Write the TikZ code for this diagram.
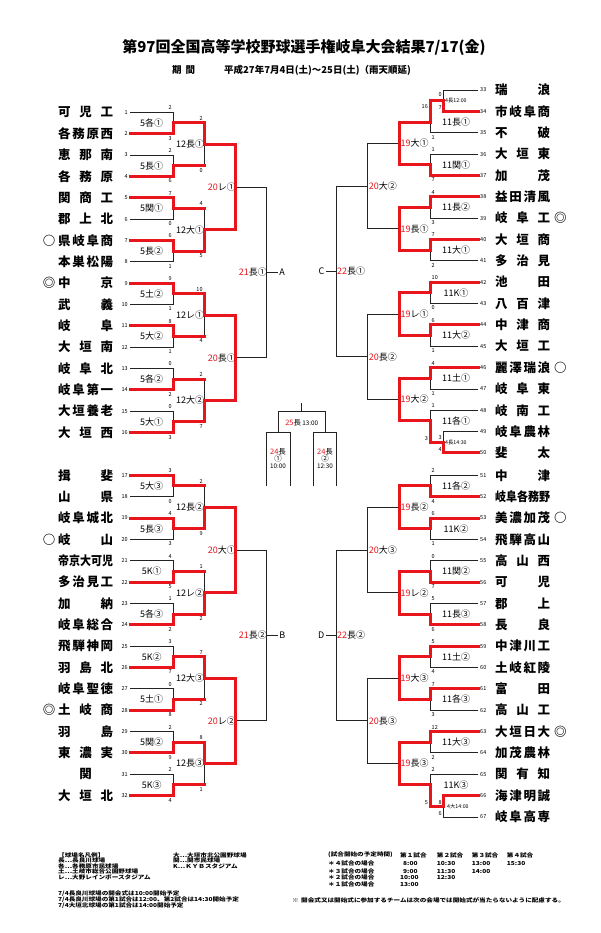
\documentclass[tikz,border=0pt]{standalone}
\usepackage{fontspec}
\setmainfont{Noto Sans CJK JP}
\usetikzlibrary{calc}
\pgfdeclarelayer{fg}
\pgfsetlayers{main,fg}
\definecolor{bred}{RGB}{232,22,28}
\definecolor{lk}{RGB}{35,35,35}
\newcommand\R[1]{\textcolor{bred}{#1}}
\def\gap{\hskip 0pt plus 1fill\relax}
\def\sprA#1{#1\sprB}
\def\sprB#1{\ifx\relax#1\else\gap#1\expandafter\sprB\fi}
\newcommand\spr[1]{\setbox0=\hbox{\sprA#1\relax}\ifdim\wd0>55pt\resizebox{55pt}{\height}{\box0}\else\hbox to 55pt{\sprA#1\relax}\fi}
\tikzset{
 redl/.style={draw=bred,line width=3pt,line cap=rect,line join=miter},
 blkl/.style={draw=lk,line width=0.8pt},
 tname/.style={font=\fontsize{12.5}{13}\selectfont\bfseries,inner sep=0pt},
 tnum/.style={font=\fontsize{5.5}{6}\selectfont,inner sep=0pt},
 sc/.style={font=\fontsize{5.5}{6}\selectfont,inner sep=0pt},
 xs/.style={font=\fontsize{5.3}{6}\selectfont,inner sep=0pt,anchor=west},
 gl/.style={font=\fontsize{9}{10}\selectfont,inner sep=0pt},
 bx/.style={font=\fontsize{7.5}{8}\selectfont,inner sep=0pt},
 bxs/.style={font=\fontsize{6.3}{7}\selectfont,inner sep=0pt},
 lg/.style={font=\fontsize{5.5}{5.5}\selectfont\bfseries,inner sep=0pt,anchor=west},
}
\newcommand\lgn[4]{\node[lg] (#1) at (#2,#3) {\scalebox{1.2}[1]{#4}};}
\newcommand\seg[2]{\ifx r#1\begin{pgfonlayer}{fg}\draw[redl] #2;\end{pgfonlayer}\else\draw[blkl] #2;\fi}
\newcommand\gin[4]{\ifx#3#4\seg{#3}{(#1) -- (#1 -| #2) -- (#2)}\else\seg{#3}{(#1) -- (#1 -| #2)}\seg{#4}{(#1 -| #2) -- (#2)}\fi}
\newcommand\gmid[4]{\coordinate (#1m) at ($(#2)!.5!(#3)$);\coordinate (#1) at (#1m -| #4);}
\newcommand\gA[6]{\gmid{#1}{#2}{#3}{#4}\gin{#2}{#1}{#5}{#5}\gin{#3}{#1}{#6}{#6}}
\newcommand\gB[8]{\gmid{#1}{#2}{#3}{#4}\gin{#2}{#1}{#5}{#6}\gin{#3}{#1}{#7}{#8}}
\newcommand\sL[5]{\node[sc,anchor=east] at ($(#1 -| #3)+(-1.2,-4.5)$) {#4};\node[sc,anchor=east] at ($(#2 -| #3)+(-1.2,4.5)$) {#5};}
\newcommand\sR[5]{\node[sc,anchor=west] at ($(#1 -| #3)+(1.5,-4.5)$) {#4};\node[sc,anchor=west] at ($(#2 -| #3)+(1.5,4.5)$) {#5};}
\begin{document}
\begin{tikzpicture}[x=1pt,y=-1pt]
\useasboundingbox (0,0) rectangle (600,933);
\fill[white] (0,0) rectangle (600,933);
% header
\node[font=\fontsize{15}{16}\selectfont\bfseries,inner sep=0pt] (title) at (304,48) {第97回全国高等学校野球選手権岐阜大会結果7/17(金)};
\node[font=\fontsize{9.5}{10}\selectfont\bfseries,inner sep=0pt,anchor=west] (per) at (172,70) {\makebox[23pt][s]{期\hfill 間}};
\node[font=\fontsize{9.5}{10}\selectfont\bfseries,inner sep=0pt,anchor=west] (dates) at (224,70) {平成27年7月4日(土)～25日(土)（雨天順延)};
% x positions
\coordinate (LX1) at (173,0);\coordinate (LX2) at (204,0);\coordinate (LX3) at (235.7,0);\coordinate (LX4) at (266.7,0);
\coordinate (RXE) at (443,0);\coordinate (RX1) at (430,0);\coordinate (RX2) at (399,0);\coordinate (RX3) at (367.7,0);\coordinate (RX4) at (336,0);
% left teams
\foreach \i/\nm in {1/可児工,2/各務原西,3/恵那南,4/各務原,5/関商工,6/郡上北,7/県岐阜商,8/本巣松陽,9/中京,10/武義,11/岐阜,12/大垣南,13/岐阜北,14/岐阜第一,15/大垣養老,16/大垣西,17/揖斐,18/山県,19/岐阜城北,20/岐山,21/帝京大可児,22/多治見工,23/加納,24/岐阜総合,25/飛騨神岡,26/羽島北,27/岐阜聖徳,28/土岐商,29/羽島,30/東濃実,31/{\hfil 関\hfil},32/大垣北}{
 \pgfmathsetmacro\yy{(\i<17)*(112.3+(\i-1)*21.35)+(\i>16)*(475.3+(\i-17)*21.35)}
 \coordinate (L\i) at (130,\yy);
 \node[tnum,anchor=east] (num\i) at (128,\yy) {\i};
 \node[tname,anchor=west] (n\i) at (58,\yy) {\expandafter\spr\expandafter{\nm}};
}
% right teams
\foreach \i/\nm in {33/瑞浪,34/市岐阜商,35/不破,36/大垣東,37/加茂,38/益田清風,39/岐阜工,40/大垣商,41/多治見,42/池田,43/八百津,44/中津商,45/大垣工,46/麗澤瑞浪,47/岐阜東,48/岐南工,49/岐阜農林,50/斐太,51/中津,52/岐阜各務野,53/美濃加茂,54/飛騨高山,55/高山西,56/可児,57/郡上,58/長良,59/中津川工,60/土岐紅陵,61/富田,62/高山工,63/大垣日大,64/加茂農林,65/関有知,66/海津明誠,67/岐阜高専}{
 \pgfmathsetmacro\yy{(\i<51)*(90+(\i-33)*21.35)+(\i>50)*(475.3+(\i-51)*21.35)}
 \coordinate (R\i) at (478,\yy);
 \node[tnum,anchor=west] (num\i) at (480,\yy) {\i};
 \node[tname,anchor=west] (n\i) at (495,\yy) {\expandafter\spr\expandafter{\nm}};
}
% markers
\node[tname] (mk7) at ($(n7.west)+(-9,0)$) {○};
\node[tname] (mk9) at ($(n9.west)+(-9,0)$) {◎};
\node[tname] (mk20) at ($(n20.west)+(-9,0)$) {○};
\node[tname] (mk28) at ($(n28.west)+(-9,0)$) {◎};
\node[tname] (mk39) at ($(n39.east)+(10,0)$) {◎};
\node[tname] (mk46) at ($(n46.east)+(10,0)$) {○};
\node[tname] (mk53) at ($(n53.east)+(10,0)$) {○};
\node[tname] (mk63) at ($(n63.east)+(10,0)$) {◎};
% ---- left bracket
\gA{a1}{L1}{L2}{LX1}{k}{r}
\gA{a2}{L3}{L4}{LX1}{k}{r}
\gA{a3}{L5}{L6}{LX1}{r}{k}
\gA{a4}{L7}{L8}{LX1}{r}{k}
\gA{a5}{L9}{L10}{LX1}{r}{k}
\gA{a6}{L11}{L12}{LX1}{r}{k}
\gA{a7}{L13}{L14}{LX1}{k}{r}
\gA{a8}{L15}{L16}{LX1}{k}{r}
\gA{a9}{L17}{L18}{LX1}{r}{k}
\gA{a10}{L19}{L20}{LX1}{r}{k}
\gA{a11}{L21}{L22}{LX1}{k}{r}
\gA{a12}{L23}{L24}{LX1}{k}{r}
\gA{a13}{L25}{L26}{LX1}{k}{r}
\gA{a14}{L27}{L28}{LX1}{k}{r}
\gA{a15}{L29}{L30}{LX1}{k}{r}
\gA{a16}{L31}{L32}{LX1}{k}{r}
\gB{b1}{a1}{a2}{LX2}{r}{r}{r}{k}
\gB{b2}{a3}{a4}{LX2}{r}{k}{r}{r}
\gB{b3}{a5}{a6}{LX2}{r}{r}{r}{k}
\gB{b4}{a7}{a8}{LX2}{r}{k}{r}{r}
\gB{b5}{a9}{a10}{LX2}{r}{k}{r}{r}
\gB{b6}{a11}{a12}{LX2}{r}{k}{r}{r}
\gB{b7}{a13}{a14}{LX2}{r}{r}{r}{k}
\gB{b8}{a15}{a16}{LX2}{r}{r}{r}{k}
\gB{c1}{b1}{b2}{LX3}{r}{r}{r}{r}
\gB{c2}{b3}{b4}{LX3}{r}{r}{r}{r}
\gB{c3}{b5}{b6}{LX3}{r}{r}{r}{r}
\gB{c4}{b7}{b8}{LX3}{r}{r}{r}{r}
\gB{d1}{c1}{c2}{LX4}{k}{k}{k}{k}
\gB{d2}{c3}{c4}{LX4}{k}{k}{k}{k}
\node[gl,inner sep=1.5pt,anchor=west] (A) at ($(d1)+(11,0)$) {A};
\node[gl,inner sep=1.5pt,anchor=west] (B) at ($(d2)+(11,0)$) {B};
\draw[blkl] (d1) -- (A.west);
\draw[blkl] (d2) -- (B.west);
% ---- right bracket
\gA{e1}{R33}{R34}{RXE}{k}{r}
\gmid{f1}{R34}{R35}{RX1}\gin{e1}{f1}{r}{r}\gin{R35}{f1}{k}{k}
\gA{f2}{R36}{R37}{RX1}{k}{r}
\gA{f3}{R38}{R39}{RX1}{r}{k}
\gA{f4}{R40}{R41}{RX1}{r}{k}
\gA{f5}{R42}{R43}{RX1}{r}{k}
\gA{f6}{R44}{R45}{RX1}{r}{k}
\gA{f7}{R46}{R47}{RX1}{r}{k}
\gA{e2}{R49}{R50}{RXE}{k}{r}
\gmid{f8}{R48}{R49}{RX1}\gin{R48}{f8}{k}{k}\gin{e2}{f8}{r}{r}
\gA{f9}{R51}{R52}{RX1}{k}{r}
\gA{f10}{R53}{R54}{RX1}{r}{k}
\gA{f11}{R55}{R56}{RX1}{k}{r}
\gA{f12}{R57}{R58}{RX1}{k}{r}
\gA{f13}{R59}{R60}{RX1}{r}{k}
\gA{f14}{R61}{R62}{RX1}{r}{k}
\gA{f15}{R63}{R64}{RX1}{r}{k}
\gA{e3}{R66}{R67}{RXE}{r}{k}
\gmid{f16}{R65}{R66}{RX1}\gin{R65}{f16}{k}{k}\gin{e3}{f16}{r}{r}
\gB{g1}{f1}{f2}{RX2}{r}{r}{r}{r}
\gB{g2}{f3}{f4}{RX2}{r}{r}{r}{r}
\gB{g3}{f5}{f6}{RX2}{r}{r}{r}{r}
\gB{g4}{f7}{f8}{RX2}{r}{r}{r}{r}
\gB{g5}{f9}{f10}{RX2}{r}{r}{r}{r}
\gB{g6}{f11}{f12}{RX2}{r}{r}{r}{r}
\gB{g7}{f13}{f14}{RX2}{r}{r}{r}{r}
\gB{g8}{f15}{f16}{RX2}{r}{r}{r}{r}
\gB{h1}{g1}{g2}{RX3}{k}{k}{k}{k}
\gB{h2}{g3}{g4}{RX3}{k}{k}{k}{k}
\gB{h3}{g5}{g6}{RX3}{k}{k}{k}{k}
\gB{h4}{g7}{g8}{RX3}{k}{k}{k}{k}
\gB{i1}{h1}{h2}{RX4}{k}{k}{k}{k}
\gB{i2}{h3}{h4}{RX4}{k}{k}{k}{k}
\node[gl,inner sep=1.5pt,anchor=east] (C) at ($(i1)+(-10,0)$) {C};
\node[gl,inner sep=1.5pt,anchor=east] (D) at ($(i2)+(-10,0)$) {D};
\draw[blkl] (C.east) -- (i1);
\draw[blkl] (D.east) -- (i2);
% ---- game labels
\foreach \k/\tx in {1/5各①,2/5長①,3/5関①,4/5長②,5/5土②,6/5大②,7/5各②,8/5大①,9/5大③,10/5長③,11/5K①,12/5各③,13/5K②,14/5土①,15/5関②,16/5K③}
 \node[gl] (la\k) at ($(a\k)+(-21.3,0)$) {\tx};
\foreach \k/\tx in {1/12長①,2/12大①,3/12レ①,4/12大②,5/12長②,6/12レ②,7/12大③,8/12長③}
 \node[gl,anchor=east] (lb\k) at ($(b\k)+(0.3,0)$) {\tx};
\foreach \k/\tx in {1/\R{20}レ①,2/\R{20}長①,3/\R{20}大①,4/\R{20}レ②}
 \node[gl,anchor=east] (lc\k) at ($(c\k)+(0.3,0)$) {\tx};
\node[gl,anchor=east] (ld1) at ($(d1)+(0.3,0)$) {\R{21}長①};
\node[gl,anchor=east] (ld2) at ($(d2)+(0.3,0)$) {\R{21}長②};
\foreach \k/\tx in {1/11長①,2/11関①,3/11長②,4/11大①,5/11K①,6/11大②,7/11土①,8/11各①,9/11各②,10/11K②,11/11関②,12/11長③,13/11土②,14/11各③,15/11大③,16/11K③}
 \node[gl] (lf\k) at ($(f\k)+(26,0)$) {\tx};
\foreach \k/\tx in {1/\R{19}大①,2/\R{19}長①,3/\R{19}レ①,4/\R{19}大②,5/\R{19}長②,6/\R{19}レ②,7/\R{19}大③,8/\R{19}長③}
 \node[gl,anchor=west] (lg\k) at ($(g\k)+(1.5,0)$) {\tx};
\foreach \k/\tx in {1/\R{20}大②,2/\R{20}長②,3/\R{20}大③,4/\R{20}長③}
 \node[gl,anchor=west] (lh\k) at ($(h\k)+(1,0)$) {\tx};
\node[gl,anchor=west] (li1) at ($(i1)+(1,0)$) {\R{22}長①};
\node[gl,anchor=west] (li2) at ($(i2)+(1,0)$) {\R{22}長②};
\node[xs] (x1) at ($(e1)+(2,0)$) {4長12:00};
\node[xs] (x2) at ($(e2)+(2,0)$) {4長14:30};
\node[xs] (x3) at ($(e3)+(4,0)$) {4大14:00};
% ---- scores left
\sL{L1}{L2}{LX1}{2}{3}
\sL{L3}{L4}{LX1}{2}{6}
\sL{L5}{L6}{LX1}{7}{0}
\sL{L7}{L8}{LX1}{6}{1}
\sL{L9}{L10}{LX1}{9}{1}
\sL{L11}{L12}{LX1}{8}{1}
\sL{L13}{L14}{LX1}{0}{2}
\sL{L15}{L16}{LX1}{0}{3}
\sL{L17}{L18}{LX1}{3}{0}
\sL{L19}{L20}{LX1}{4}{3}
\sL{L21}{L22}{LX1}{4}{5}
\sL{L23}{L24}{LX1}{1}{2}
\sL{L25}{L26}{LX1}{3}{7}
\sL{L27}{L28}{LX1}{0}{8}
\sL{L29}{L30}{LX1}{2}{9}
\sL{L31}{L32}{LX1}{2}{4}
\sL{a1}{a2}{LX2}{2}{0}
\sL{a3}{a4}{LX2}{4}{5}
\sL{a5}{a6}{LX2}{10}{4}
\sL{a7}{a8}{LX2}{2}{7}
\sL{a9}{a10}{LX2}{2}{9}
\sL{a11}{a12}{LX2}{1}{2}
\sL{a13}{a14}{LX2}{7}{2}
\sL{a15}{a16}{LX2}{8}{1}
% ---- scores right
\node[sc,anchor=east] at ($(R33 -| RXE)+(-1.2,5)$) {0};
\node[sc,anchor=east] at ($(R34 -| RXE)+(-1.2,-4)$) {7};
\node[sc,anchor=east] at ($(e1 -| RX1)+(-2,6)$) {16};
\node[sc,anchor=west] at ($(R35 -| RX1)+(1.5,4.5)$) {1};
\sR{R36}{R37}{RX1}{1}{7}
\sR{R38}{R39}{RX1}{4}{3}
\sR{R40}{R41}{RX1}{7}{2}
\sR{R42}{R43}{RX1}{10}{0}
\sR{R44}{R45}{RX1}{6}{1}
\sR{R46}{R47}{RX1}{4}{1}
\node[sc,anchor=west] at ($(R48 -| RX1)+(1.5,-4.5)$) {1};
\node[sc,anchor=east] at ($(e2 -| RX1)+(-1.8,-3.4)$) {3};
\node[sc,anchor=east] at ($(R49 -| RXE)+(-1.2,5.6)$) {3};
\node[sc,anchor=east] at ($(R50 -| RXE)+(-1.2,-3.7)$) {4};
\sR{R51}{R52}{RX1}{2}{4}
\sR{R53}{R54}{RX1}{6}{1}
\sR{R55}{R56}{RX1}{0}{7}
\sR{R57}{R58}{RX1}{5}{6}
\sR{R59}{R60}{RX1}{5}{4}
\sR{R61}{R62}{RX1}{7}{3}
\sR{R63}{R64}{RX1}{12}{2}
\node[sc,anchor=west] at ($(R65 -| RX1)+(1.5,-4.5)$) {2};
\node[sc,anchor=east] at ($(e3 -| RX1)+(-1.8,-3.6)$) {5};
\node[sc,anchor=east] at ($(R66 -| RXE)+(-1.2,7)$) {8};
\node[sc,anchor=east] at ($(R67 -| RXE)+(-1.2,-3.6)$) {6};
% ---- final boxes
\coordinate (fnT) at (301.7,403);
\coordinate (fnB) at (301.7,411.7);
\draw[blkl] (fnT) -- (fnB);
\draw[blkl] (278.3,432.3) |- (325,411.7) -- (325,432.3);
\draw[blkl] (266,486) |- (290,432.3) -- (290,486);
\draw[blkl] (313.3,486) |- (336.7,432.3) -- (336.7,486);
\node[anchor=base,inner sep=0pt] (fin) at (301.7,425.3) {\fontsize{7.5}{8}\selectfont\R{25}長\,\fontsize{6.3}{7}\selectfont 13:00};
\node[bx] (sf1a) at (278,452) {\R{24}長};
\node[bx] (sf1b) at (278,459) {①};
\node[bxs] (sf1c) at (278,466.5) {10:00};
\node[bx] (sf2a) at (325,452) {\R{24}長};
\node[bx] (sf2b) at (325,459) {②};
\node[bxs] (sf2c) at (325,466.5) {12:30};
% ---- legend
\lgn{lg1}{58}{855}{【球場名凡例】}
\lgn{lg2}{58}{860.7}{長…長良川球場}
\lgn{lg3}{58}{866.2}{各…各務原市民球場}
\lgn{lg4}{58}{871.7}{土…土岐市総合公園野球場}
\lgn{lg5}{58}{877.2}{レ…大野レインボースタジアム}
\lgn{lg6}{173}{855}{大…大垣市北公園野球場}
\lgn{lg7}{173}{860.7}{関…関市民球場}
\lgn{lg8}{173}{866.2}{K…ＫＹＢスタジアム}
\lgn{lg9}{58}{893.3}{7/4長良川球場の開会式は10:00開始予定}
\lgn{lg10}{58}{899.3}{7/4長良川球場の第1試合は12:00、第2試合は14:30開始予定}
\lgn{lg11}{58}{905.7}{7/4大垣北球場の第1試合は14:00開始予定}
\lgn{tt0}{328}{855}{(試合開始の予定時間)}
\lgn{tt1}{400}{855}{第１試合}
\lgn{tt2}{436.7}{855}{第２試合}
\lgn{tt3}{471.7}{855}{第３試合}
\lgn{tt4}{506.7}{855}{第４試合}
\lgn{r41}{328}{863.3}{＊４試合の場合}
\lgn{r42}{403}{863.3}{8:00}
\lgn{r43}{436.7}{863.3}{10:30}
\lgn{r44}{471.7}{863.3}{13:00}
\lgn{r45}{506.7}{863.3}{15:30}
\lgn{r31}{328}{871}{＊３試合の場合}
\lgn{r32}{403}{871}{9:00}
\lgn{r33}{436.7}{871}{11:30}
\lgn{r34}{471.7}{871}{14:00}
\lgn{r21}{328}{877.7}{＊２試合の場合}
\lgn{r22}{400}{877.7}{10:00}
\lgn{r23}{436.7}{877.7}{12:30}
\lgn{r11}{328}{884.3}{＊１試合の場合}
\lgn{r12}{400}{884.3}{13:00}
\lgn{nt0}{292}{900}{※}
\lgn{nt1}{301}{900}{開会式又は開始式に参加するチームは次の会場では開始式が当たらないように配慮する。}
\end{tikzpicture}
\end{document}
